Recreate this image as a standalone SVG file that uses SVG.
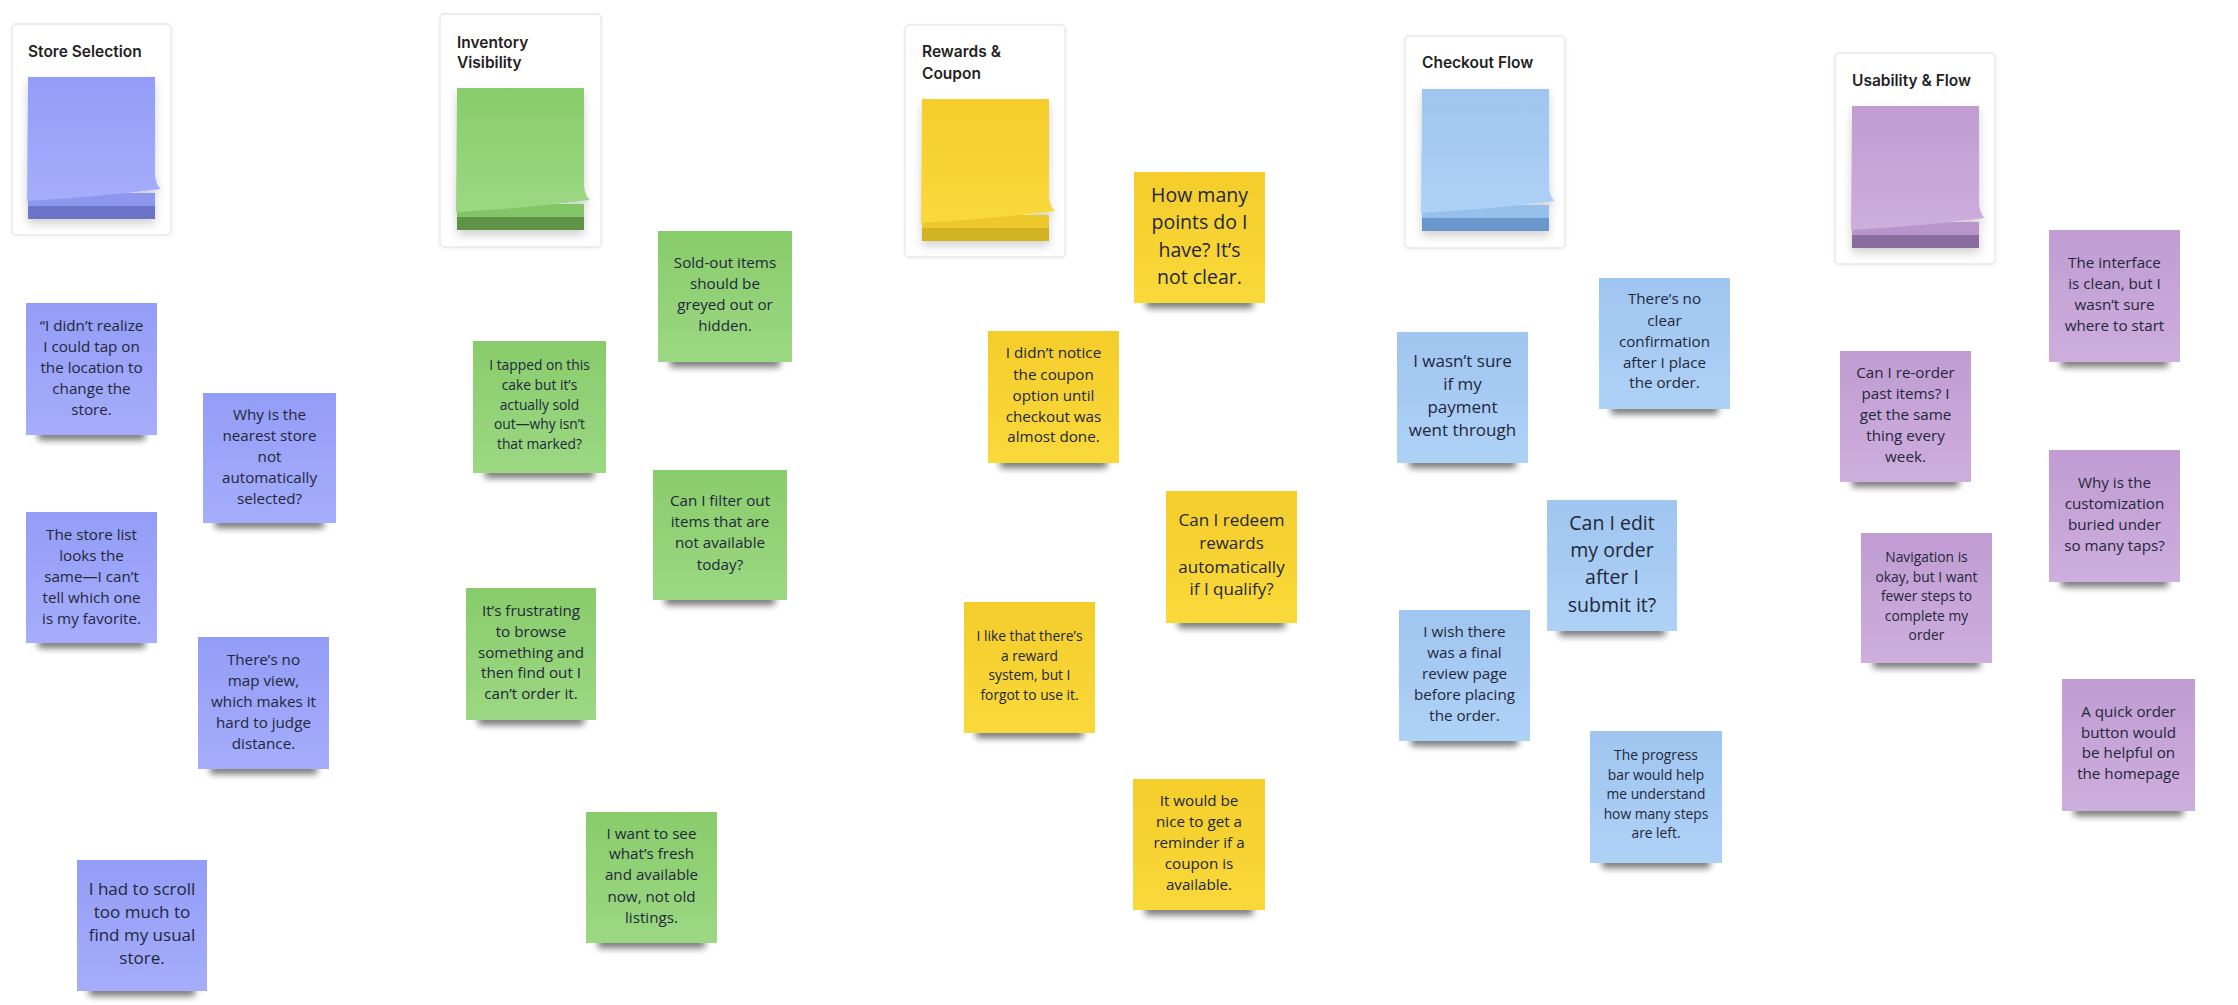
<svg xmlns="http://www.w3.org/2000/svg" width="2238" height="1005" viewBox="0 0 2238 1005">
<style>
  .card{fill:#ffffff;stroke:#e7e7e9;stroke-width:1.3;filter:url(#cardsh)}
  .title{font-family:Inter,"Liberation Sans",sans-serif;font-weight:600;font-size:15.5px;fill:#1f1f24}
  .nt{font-family:"Open Sans","Liberation Sans",sans-serif;fill:#23273a;text-anchor:middle}
  .f15{font-size:13.8px}.f16{font-size:15.2px}.f18{font-size:17px}.f19{font-size:17px}.f22{font-size:19.5px}
  .sh{fill:#000;opacity:.55;filter:url(#blur)}
  .v .pp{fill:url(#gv)}.g .pp{fill:url(#gg)}.y .pp{fill:url(#gy)}.b .pp{fill:url(#gb)}.p .pp{fill:url(#gp)}
  .v .band{fill:#6a74c8}.g .band{fill:#5e9247}.y .band{fill:#d3b224}.b .band{fill:#6898cb}.p .band{fill:#8a6d9f}
  .v .mid{fill:#8d97ee}.g .mid{fill:#82c566}.y .mid{fill:#ecc82a}.b .mid{fill:#97bfec}.p .mid{fill:#b896cb}
  .pad{filter:url(#padsh)}
</style>
<defs>
  <filter id="blur" x="-20%" y="-100%" width="140%" height="300%"><feGaussianBlur stdDeviation="3.5"/></filter>
  <filter id="cardsh" x="-10%" y="-10%" width="120%" height="120%"><feDropShadow dx="0" dy="1" stdDeviation="2" flood-color="#000" flood-opacity="0.06"/></filter>
  <filter id="padsh" x="-20%" y="-20%" width="140%" height="140%"><feDropShadow dx="0" dy="5" stdDeviation="5" flood-color="#000" flood-opacity="0.18"/></filter>
  <linearGradient id="gv" x1="0" y1="0" x2="0" y2="1"><stop offset="0" stop-color="#939df6"/><stop offset="1" stop-color="#a5adfb"/></linearGradient>
  <linearGradient id="gg" x1="0" y1="0" x2="0" y2="1"><stop offset="0" stop-color="#88cc6b"/><stop offset="1" stop-color="#9cd883"/></linearGradient>
  <linearGradient id="gy" x1="0" y1="0" x2="0" y2="1"><stop offset="0" stop-color="#f4cd2a"/><stop offset="1" stop-color="#f9d93a"/></linearGradient>
  <linearGradient id="gb" x1="0" y1="0" x2="0" y2="1"><stop offset="0" stop-color="#9fc5f0"/><stop offset="1" stop-color="#aed1f6"/></linearGradient>
  <linearGradient id="gp" x1="0" y1="0" x2="0" y2="1"><stop offset="0" stop-color="#c09cd2"/><stop offset="1" stop-color="#ceaedd"/></linearGradient>
</defs>
<rect x="0" y="0" width="2238" height="1005" fill="#ffffff"/>

<g id="connectors"></g>

<!-- Category cards -->
<g id="card-store" class="v">
  <rect class="card" x="12" y="24" width="159" height="211" rx="4"/>
  <text class="title" x="28" y="57">Store Selection</text>
  <g class="pad" transform="translate(28,77)">
    <rect class="band" x="0" y="128" width="127" height="14"/>
    <rect class="mid" x="0" y="116" width="127" height="13"/>
    <path class="pp" d="M0,0 H127 V98 Q128,108 133,112 Q70,120 -1,124 Z"/>
  </g>
</g>
<g id="card-inventory" class="g">
  <rect class="card" x="440" y="14" width="161" height="233" rx="4"/>
  <text class="title" x="457" y="48">Inventory</text>
  <text class="title" x="457" y="68">Visibility</text>
  <g class="pad" transform="translate(457,88)">
    <rect class="band" x="0" y="128" width="127" height="14"/>
    <rect class="mid" x="0" y="116" width="127" height="13"/>
    <path class="pp" d="M0,0 H127 V98 Q128,108 133,112 Q70,120 -1,124 Z"/>
  </g>
</g>
<g id="card-rewards" class="y">
  <rect class="card" x="905" y="25" width="160" height="232" rx="4"/>
  <text class="title" x="922" y="57">Rewards &amp;</text>
  <text class="title" x="922" y="79">Coupon</text>
  <g class="pad" transform="translate(922,99)">
    <rect class="band" x="0" y="128" width="127" height="14"/>
    <rect class="mid" x="0" y="116" width="127" height="13"/>
    <path class="pp" d="M0,0 H127 V98 Q128,108 133,112 Q70,120 -1,124 Z"/>
  </g>
</g>
<g id="card-checkout" class="b">
  <rect class="card" x="1405" y="36" width="160" height="212" rx="4"/>
  <text class="title" x="1422" y="68">Checkout Flow</text>
  <g class="pad" transform="translate(1422,89)">
    <rect class="band" x="0" y="128" width="127" height="14"/>
    <rect class="mid" x="0" y="116" width="127" height="13"/>
    <path class="pp" d="M0,0 H127 V98 Q128,108 133,112 Q70,120 -1,124 Z"/>
  </g>
</g>
<g id="card-usability" class="p">
  <rect class="card" x="1835" y="53" width="160" height="211" rx="4"/>
  <text class="title" x="1852" y="86">Usability &amp; Flow</text>
  <g class="pad" transform="translate(1852,106)">
    <rect class="band" x="0" y="128" width="127" height="14"/>
    <rect class="mid" x="0" y="116" width="127" height="13"/>
    <path class="pp" d="M0,0 H127 V98 Q128,108 133,112 Q70,120 -1,124 Z"/>
  </g>
</g>

<!-- Store Selection notes -->
<g id="n1" class="v">
  <rect class="sh" x="38" y="430" width="107" height="10"/>
  <rect class="pp" x="26" y="303" width="131" height="132"/>
  <text class="nt f16"><tspan x="91.5" y="331.3">“I didn’t realize</tspan><tspan x="91.5" y="352.3">I could tap on</tspan><tspan x="91.5" y="373.3">the location to</tspan><tspan x="91.5" y="394.3">change the</tspan><tspan x="91.5" y="415.3">store.</tspan></text>
</g>
<g id="n2" class="v">
  <rect class="sh" x="215" y="518" width="109" height="10"/>
  <rect class="pp" x="203" y="393" width="133" height="130"/>
  <text class="nt f16"><tspan x="269.5" y="420.3">Why is the</tspan><tspan x="269.5" y="441.3">nearest store</tspan><tspan x="269.5" y="462.3">not</tspan><tspan x="269.5" y="483.3">automatically</tspan><tspan x="269.5" y="504.3">selected?</tspan></text>
</g>
<g id="n3" class="v">
  <rect class="sh" x="38" y="638" width="107" height="10"/>
  <rect class="pp" x="26" y="512" width="131" height="131"/>
  <text class="nt f16"><tspan x="91.5" y="540.3">The store list</tspan><tspan x="91.5" y="561.3">looks the</tspan><tspan x="91.5" y="582.3">same—I can’t</tspan><tspan x="91.5" y="603.3">tell which one</tspan><tspan x="91.5" y="624.3">is my favorite.</tspan></text>
</g>
<g id="n4" class="v">
  <rect class="sh" x="210" y="764" width="107" height="10"/>
  <rect class="pp" x="198" y="637" width="131" height="132"/>
  <text class="nt f16"><tspan x="263.5" y="665.3">There’s no</tspan><tspan x="263.5" y="686.3">map view,</tspan><tspan x="263.5" y="707.3">which makes it</tspan><tspan x="263.5" y="728.3">hard to judge</tspan><tspan x="263.5" y="749.3">distance.</tspan></text>
</g>
<g id="n5" class="v">
  <rect class="sh" x="89" y="986" width="106" height="10"/>
  <rect class="pp" x="77" y="860" width="130" height="131"/>
  <text class="nt f18"><tspan x="142" y="895">I had to scroll</tspan><tspan x="142" y="918">too much to</tspan><tspan x="142" y="941">find my usual</tspan><tspan x="142" y="964">store.</tspan></text>
</g>

<!-- Inventory Visibility notes -->
<g id="n6" class="g">
  <rect class="sh" x="670" y="357" width="110" height="10"/>
  <rect class="pp" x="658" y="231" width="134" height="131"/>
  <text class="nt f16"><tspan x="725" y="268.3">Sold-out items</tspan><tspan x="725" y="289.3">should be</tspan><tspan x="725" y="310.3">greyed out or</tspan><tspan x="725" y="331.3">hidden.</tspan></text>
</g>
<g id="n7" class="g">
  <rect class="sh" x="485" y="468" width="109" height="10"/>
  <rect class="pp" x="473" y="341" width="133" height="132"/>
  <text class="nt f15"><tspan x="539.5" y="369.8">I tapped on this</tspan><tspan x="539.5" y="389.8">cake but it’s</tspan><tspan x="539.5" y="409.8">actually sold</tspan><tspan x="539.5" y="428.8">out—why isn’t</tspan><tspan x="539.5" y="448.8">that marked?</tspan></text>
</g>
<g id="n8" class="g">
  <rect class="sh" x="665" y="595" width="110" height="10"/>
  <rect class="pp" x="653" y="470" width="134" height="130"/>
  <text class="nt f16"><tspan x="720" y="506.3">Can I filter out</tspan><tspan x="720" y="527.3">items that are</tspan><tspan x="720" y="548.3">not available</tspan><tspan x="720" y="570.3">today?</tspan></text>
</g>
<g id="n9" class="g">
  <rect class="sh" x="478" y="715" width="106" height="10"/>
  <rect class="pp" x="466" y="588" width="130" height="132"/>
  <text class="nt f16"><tspan x="531" y="616.3">It’s frustrating</tspan><tspan x="531" y="637.3">to browse</tspan><tspan x="531" y="658.3">something and</tspan><tspan x="531" y="678.3">then find out I</tspan><tspan x="531" y="699.3">can’t order it.</tspan></text>
</g>
<g id="n10" class="g">
  <rect class="sh" x="598" y="938" width="107" height="10"/>
  <rect class="pp" x="586" y="812" width="131" height="131"/>
  <text class="nt f16"><tspan x="651.5" y="839.3">I want to see</tspan><tspan x="651.5" y="859.3">what’s fresh</tspan><tspan x="651.5" y="880.3">and available</tspan><tspan x="651.5" y="902.3">now, not old</tspan><tspan x="651.5" y="923.3">listings.</tspan></text>
</g>

<!-- Rewards & Coupon notes -->
<g id="n11" class="y">
  <rect class="sh" x="1146" y="298" width="107" height="10"/>
  <rect class="pp" x="1134" y="172" width="131" height="131"/>
  <text class="nt f22"><tspan x="1199.5" y="201.8">How many</tspan><tspan x="1199.5" y="228.8">points do I</tspan><tspan x="1199.5" y="256.8">have? It’s</tspan><tspan x="1199.5" y="283.8">not clear.</tspan></text>
</g>
<g id="n12" class="y">
  <rect class="sh" x="1000" y="458" width="107" height="10"/>
  <rect class="pp" x="988" y="331" width="131" height="132"/>
  <text class="nt f16"><tspan x="1053.5" y="358.3">I didn’t notice</tspan><tspan x="1053.5" y="380.3">the coupon</tspan><tspan x="1053.5" y="401.3">option until</tspan><tspan x="1053.5" y="422.3">checkout was</tspan><tspan x="1053.5" y="442.3">almost done.</tspan></text>
</g>
<g id="n13" class="y">
  <rect class="sh" x="1178" y="618" width="107" height="10"/>
  <rect class="pp" x="1166" y="491" width="131" height="132"/>
  <text class="nt f19"><tspan x="1231.5" y="526">Can I redeem</tspan><tspan x="1231.5" y="549">rewards</tspan><tspan x="1231.5" y="573">automatically</tspan><tspan x="1231.5" y="595">if I qualify?</tspan></text>
</g>
<g id="n14" class="y">
  <rect class="sh" x="976" y="728" width="107" height="10"/>
  <rect class="pp" x="964" y="602" width="131" height="131"/>
  <text class="nt f15"><tspan x="1029.5" y="640.8">I like that there’s</tspan><tspan x="1029.5" y="660.8">a reward</tspan><tspan x="1029.5" y="679.8">system, but I</tspan><tspan x="1029.5" y="699.8">forgot to use it.</tspan></text>
</g>
<g id="n15" class="y">
  <rect class="sh" x="1145" y="905" width="108" height="10"/>
  <rect class="pp" x="1133" y="779" width="132" height="131"/>
  <text class="nt f16"><tspan x="1199" y="806.3">It would be</tspan><tspan x="1199" y="827.3">nice to get a</tspan><tspan x="1199" y="848.3">reminder if a</tspan><tspan x="1199" y="869.3">coupon is</tspan><tspan x="1199" y="890.3">available.</tspan></text>
</g>

<!-- Checkout Flow notes -->
<g id="n16" class="b">
  <rect class="sh" x="1611" y="404" width="107" height="10"/>
  <rect class="pp" x="1599" y="278" width="131" height="131"/>
  <text class="nt f16"><tspan x="1664.5" y="304.3">There’s no</tspan><tspan x="1664.5" y="326.3">clear</tspan><tspan x="1664.5" y="347.3">confirmation</tspan><tspan x="1664.5" y="368.3">after I place</tspan><tspan x="1664.5" y="388.3">the order.</tspan></text>
</g>
<g id="n17" class="b">
  <rect class="sh" x="1409" y="458" width="107" height="10"/>
  <rect class="pp" x="1397" y="332" width="131" height="131"/>
  <text class="nt f19"><tspan x="1462.5" y="367">I wasn’t sure</tspan><tspan x="1462.5" y="390">if my</tspan><tspan x="1462.5" y="413">payment</tspan><tspan x="1462.5" y="436">went through</tspan></text>
</g>
<g id="n18" class="b">
  <rect class="sh" x="1559" y="626" width="106" height="10"/>
  <rect class="pp" x="1547" y="500" width="130" height="131"/>
  <text class="nt f22"><tspan x="1612" y="529.8">Can I edit</tspan><tspan x="1612" y="556.8">my order</tspan><tspan x="1612" y="583.8">after I</tspan><tspan x="1612" y="611.8">submit it?</tspan></text>
</g>
<g id="n19" class="b">
  <rect class="sh" x="1411" y="736" width="107" height="10"/>
  <rect class="pp" x="1399" y="610" width="131" height="131"/>
  <text class="nt f16"><tspan x="1464.5" y="637.3">I wish there</tspan><tspan x="1464.5" y="658.3">was a final</tspan><tspan x="1464.5" y="679.3">review page</tspan><tspan x="1464.5" y="700.3">before placing</tspan><tspan x="1464.5" y="721.3">the order.</tspan></text>
</g>
<g id="n20" class="b">
  <rect class="sh" x="1602" y="858" width="108" height="10"/>
  <rect class="pp" x="1590" y="731" width="132" height="132"/>
  <text class="nt f15"><tspan x="1656" y="759.8">The progress</tspan><tspan x="1656" y="779.8">bar would help</tspan><tspan x="1656" y="798.8">me understand</tspan><tspan x="1656" y="818.8">how many steps</tspan><tspan x="1656" y="837.8">are left.</tspan></text>
</g>

<!-- Usability & Flow notes -->
<g id="n21" class="p">
  <rect class="sh" x="2061" y="357" width="107" height="10"/>
  <rect class="pp" x="2049" y="230" width="131" height="132"/>
  <text class="nt f16"><tspan x="2114.5" y="268.3">The interface</tspan><tspan x="2114.5" y="289.3">is clean, but I</tspan><tspan x="2114.5" y="310.3">wasn’t sure</tspan><tspan x="2114.5" y="331.3">where to start</tspan></text>
</g>
<g id="n22" class="p">
  <rect class="sh" x="1852" y="477" width="107" height="10"/>
  <rect class="pp" x="1840" y="351" width="131" height="131"/>
  <text class="nt f16"><tspan x="1905.5" y="378.3">Can I re-order</tspan><tspan x="1905.5" y="399.3">past items? I</tspan><tspan x="1905.5" y="420.3">get the same</tspan><tspan x="1905.5" y="441.3">thing every</tspan><tspan x="1905.5" y="462.3">week.</tspan></text>
</g>
<g id="n23" class="p">
  <rect class="sh" x="2061" y="577" width="107" height="10"/>
  <rect class="pp" x="2049" y="450" width="131" height="132"/>
  <text class="nt f16"><tspan x="2114.5" y="488.3">Why is the</tspan><tspan x="2114.5" y="509.3">customization</tspan><tspan x="2114.5" y="530.3">buried under</tspan><tspan x="2114.5" y="551.3">so many taps?</tspan></text>
</g>
<g id="n24" class="p">
  <rect class="sh" x="1873" y="658" width="107" height="10"/>
  <rect class="pp" x="1861" y="533" width="131" height="130"/>
  <text class="nt f15"><tspan x="1926.5" y="561.8">Navigation is</tspan><tspan x="1926.5" y="581.8">okay, but I want</tspan><tspan x="1926.5" y="600.8">fewer steps to</tspan><tspan x="1926.5" y="620.8">complete my</tspan><tspan x="1926.5" y="639.8">order</tspan></text>
</g>
<g id="n25" class="p">
  <rect class="sh" x="2074" y="806" width="109" height="10"/>
  <rect class="pp" x="2062" y="679" width="133" height="132"/>
  <text class="nt f16"><tspan x="2128.5" y="717.3">A quick order</tspan><tspan x="2128.5" y="738.3">button would</tspan><tspan x="2128.5" y="758.3">be helpful on</tspan><tspan x="2128.5" y="779.3">the homepage</tspan></text>
</g>
</svg>
